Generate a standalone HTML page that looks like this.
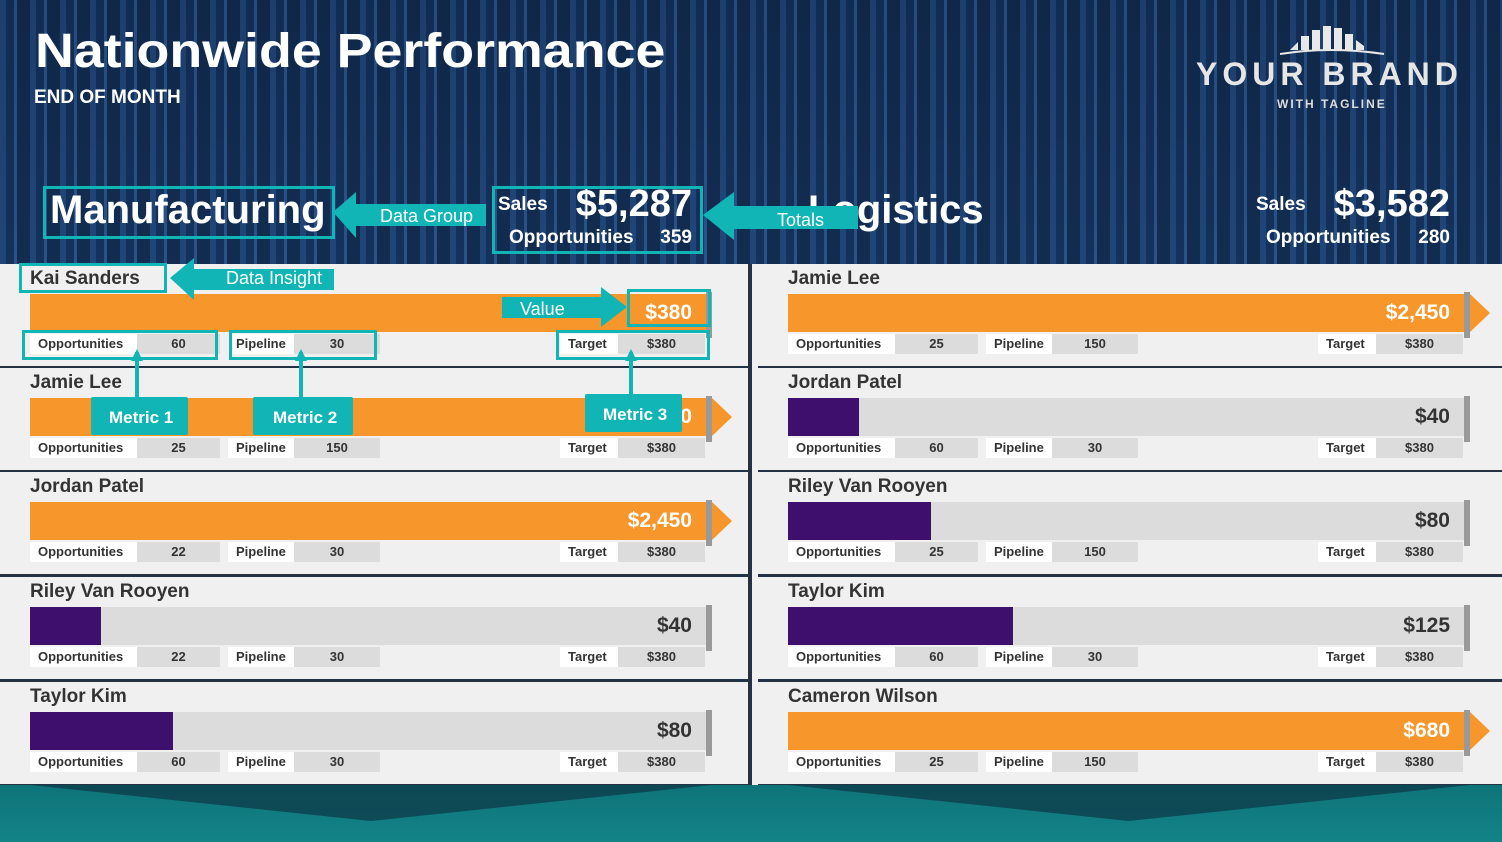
<!DOCTYPE html>
<html><head><meta charset="utf-8"><style>
*{margin:0;padding:0;box-sizing:border-box}
body{width:1502px;height:842px;overflow:hidden;font-family:"Liberation Sans",sans-serif;position:relative;background:#0e2440}
.bg{position:absolute;left:0;top:0;width:1502px;height:842px;background:
linear-gradient(180deg,rgba(10,25,50,0.2),rgba(30,70,120,0.15) 40%,rgba(20,60,110,0.2)),
repeating-linear-gradient(90deg,#22487c 0 6px,#13305a 6px 14px,#2c5890 14px 17px,#112a4d 17px 30px);}
.abs{position:absolute}
.w{color:#fff;font-weight:bold}
.sx{transform-origin:left top;transform:scaleX(1.1)}
.panel{position:absolute;background:#f0f0f0;height:102px}
.name{position:absolute;left:30px;top:4px;font-size:19px;font-weight:bold;color:#333}
.track{position:absolute;left:30px;top:30px;width:676px;height:38px;background:#dcdcdc}
.fill{position:absolute;left:0;top:0;height:38px}
.val{position:absolute;right:14px;top:7px;font-size:21px;font-weight:bold}
.mk{position:absolute;left:706px;top:28px;width:6px;height:46px;background:#999}
.arr{position:absolute;left:712px;top:30px;width:0;height:0;border-top:19px solid transparent;border-bottom:19px solid transparent;border-left:20px solid #f7962a}
.m{position:absolute;top:70px;height:20px;font-size:13px;font-weight:bold;color:#333;line-height:20px}
.lb{position:absolute;background:#fff;padding-left:8px;height:20px}
.vb{position:absolute;background:#dcdcdc;text-align:center;height:20px}
.box{position:absolute;border:3px solid #12b5b5}
</style></head><body>
<div class="bg"></div>
<div class="abs w" style="left:35px;top:24px;font-size:48px;transform-origin:left top;transform:scaleX(1.12)">Nationwide Performance</div>
<div class="abs w" style="left:34px;top:87px;font-size:19px">END OF MONTH</div>
<svg class="abs" style="left:1280px;top:24px" width="110" height="32"><g fill="#e8e8e8"><polygon points="10,26 18,18 18,26"/><rect x="21" y="12" width="8" height="14"/><rect x="32" y="6" width="8" height="20"/><rect x="43" y="2" width="8" height="24"/><rect x="54" y="4" width="8" height="22"/><rect x="65" y="10" width="8" height="16"/><polygon points="76,16 84,22 84,26 76,26"/></g><path d="M0 30 Q50 22 104 30" stroke="#e8e8e8" stroke-width="2" fill="none"/></svg>
<div class="abs" style="left:1196px;top:56px;font-size:32px;color:#e6e6e6;letter-spacing:5px;font-weight:bold">YOUR BRAND</div>
<div class="abs" style="left:1277px;top:97px;font-size:12px;color:#ddd;letter-spacing:2px;font-weight:bold">WITH TAGLINE</div>

<div class="abs w" style="left:50px;top:188px;font-size:40px">Manufacturing</div>
<div class="abs w" style="left:498px;top:194px;font-size:19px">Sales</div>
<div class="abs w" style="left:563px;top:183px;font-size:38px;width:129px;text-align:right">$5,287</div>
<div class="abs w" style="left:509px;top:227px;font-size:19px">Opportunities</div>
<div class="abs w" style="left:650px;top:227px;font-size:19px;width:42px;text-align:right">359</div>
<div class="abs w" style="left:808px;top:188px;font-size:40px">Logistics</div>
<div class="abs w" style="left:1256px;top:194px;font-size:19px">Sales</div>
<div class="abs w" style="left:1310px;top:183px;font-size:38px;width:140px;text-align:right">$3,582</div>
<div class="abs w" style="left:1266px;top:227px;font-size:19px">Opportunities</div>
<div class="abs w" style="left:1400px;top:227px;font-size:19px;width:50px;text-align:right">280</div>

<div class="abs" style="left:0;top:264px;width:1502px;height:521px;background:#233244"></div>
<div class="abs" style="left:0;top:785px;width:1502px;height:57px;background:linear-gradient(180deg,#0e7479,#138388)"></div>
<svg class="abs" style="left:0;top:785px" width="1502" height="40"><polygon points="30,0 712,0 371,36" fill="#0d3e4c" opacity="0.8"/><polygon points="788,0 1470,0 1129,36" fill="#0d3e4c" opacity="0.8"/></svg>

<div id="rows"></div>
<script>
const L=[["Kai Sanders",1,"$380",60,30,0],["Jamie Lee",1,"$2,450",25,150,1],["Jordan Patel",1,"$2,450",22,30,1],["Riley Van Rooyen",71,"$40",22,30,0],["Taylor Kim",143,"$80",60,30,0]];
const R=[["Jamie Lee",1,"$2,450",25,150,1],["Jordan Patel",71,"$40",60,30,0],["Riley Van Rooyen",143,"$80",25,150,0],["Taylor Kim",225,"$125",60,30,0],["Cameron Wilson",1,"$680",25,150,1]];
const tops=[264,368,472,577,682];
let h="";
function row(d,x,t,w){const full=d[1]===1;
h+=`<div class="panel" style="left:${x}px;top:${t}px;width:${w}px">
<div class="name">${d[0]}</div>
<div class="track">${full?`<div class="fill" style="width:676px;background:#f7962a"></div>`:`<div class="fill" style="width:${d[1]}px;background:#3f0f6e"></div>`}
<div class="val" style="color:${full?'#fff':'#333'}">${d[2]}</div></div>
<div class="mk"></div>${d[5]?'<div class="arr"></div>':''}
<div class="m"><div class="lb" style="left:30px;width:107px">Opportunities</div><div class="vb" style="left:137px;width:83px">${d[3]}</div>
<div class="lb" style="left:228px;width:66px">Pipeline</div><div class="vb" style="left:294px;width:86px">${d[4]}</div>
<div class="lb" style="left:560px;width:58px">Target</div><div class="vb" style="left:618px;width:87px">$380</div></div></div>`;}
tops.forEach((t,i)=>{row(L[i],0,t,748);row(R[i],758,t,744);});
document.getElementById('rows').innerHTML=h;
</script>
<div class="abs" style="left:752px;top:264px;width:6px;height:521px;background:#f0f0f0"></div>

<div class="box" style="left:43px;top:186px;width:292px;height:53px"></div>
<div class="box" style="left:492px;top:186px;width:211px;height:68px"></div>
<div class="box" style="left:19px;top:263px;width:148px;height:30px"></div>
<div class="box" style="left:627px;top:289px;width:84px;height:38px"></div>
<div class="box" style="left:22px;top:330px;width:196px;height:30px"></div>
<div class="box" style="left:229px;top:330px;width:148px;height:30px"></div>
<div class="box" style="left:556px;top:330px;width:154px;height:30px"></div>
<svg class="abs" style="left:0;top:0" width="1502" height="842">
<g fill="#12b5b5">
<polygon points="333,212 356,192 356,204 486,204 486,226 356,226 356,238"/>
<polygon points="703,215 734,192 734,206 858,206 858,229 734,229 734,240"/>
<polygon points="170,278 194,258 194,269 334,269 334,290 194,290 194,300"/>
<polygon points="627,307 601,287 601,297 502,297 502,318 601,318 601,327"/>
<rect x="135" y="352" width="4" height="50"/><polygon points="137,349 131,361 143,361"/>
<rect x="299" y="352" width="4" height="50"/><polygon points="301,349 295,361 307,361"/>
<rect x="629" y="352" width="4" height="48"/><polygon points="631,349 625,361 637,361"/>
<rect x="91" y="397" width="97" height="38" rx="2"/>
<rect x="253" y="397" width="100" height="38" rx="2"/>
<rect x="585" y="394" width="97" height="38" rx="2"/>
</g>
<g fill="#fff" font-family="Liberation Sans, sans-serif" font-size="18">
<text x="380" y="222">Data Group</text>
<text x="777" y="226">Totals</text>
<text x="226" y="284">Data Insight</text>
<text x="520" y="315">Value</text>
<text x="109" y="423" font-size="17" font-weight="bold">Metric 1</text>
<text x="273" y="423" font-size="17" font-weight="bold">Metric 2</text>
<text x="603" y="420" font-size="17" font-weight="bold">Metric 3</text>
</g></svg>
</body></html>
